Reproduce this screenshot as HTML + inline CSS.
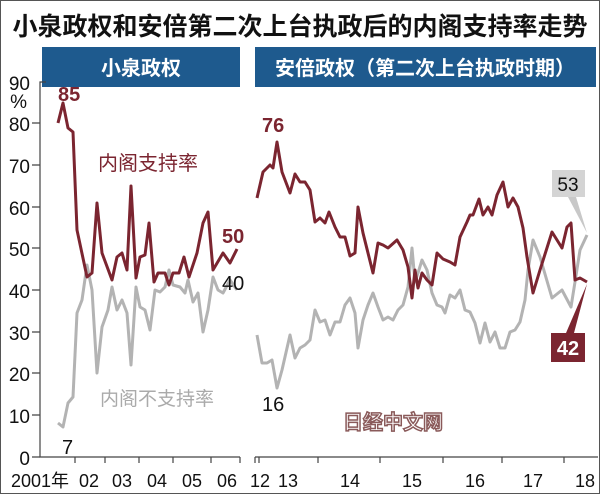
<!DOCTYPE html>
<html><head><meta charset="utf-8"><style>
html,body{margin:0;padding:0;background:#fff}
svg{display:block}
text{font-family:"Liberation Sans","Noto Sans CJK SC",sans-serif}
</style></head><body>
<svg width="600" height="494" viewBox="0 0 600 494" xmlns="http://www.w3.org/2000/svg">
<rect x="0.5" y="0.5" width="599" height="493" fill="#fff" stroke="#555"/>
<text x="300" y="35" font-size="25" font-weight="bold" text-anchor="middle" fill="#111">小泉政权和安倍第二次上台执政后的内阁支持率走势</text>
<rect x="42" y="47" width="198" height="40" fill="#1e5a8e"/>
<text x="141" y="75" font-size="20" font-weight="bold" text-anchor="middle" fill="#fff">小泉政权</text>
<rect x="255" y="47" width="341" height="40" fill="#1e5a8e"/>
<text x="425" y="75" font-size="20" font-weight="bold" text-anchor="middle" fill="#fff">安倍政权（第二次上台执政时期）</text>
<g stroke="#444" stroke-width="1.2" fill="none">
<path d="M46 82H40V457H240M255 457H598"/>
<path d="M32 123H40M32 165H40M32 207H40M32 248H40M32 290H40M32 332H40M32 373H40M32 415H40M32 457H40"/>
<path d="M75 457V463M105 457V463M139 457V463M173 457V463M211 457V463M240 457V463M255 457V463M259 457V463M318 457V463M380 457V463M443 457V463M502 457V463M564 457V463"/>
</g>
<g font-size="19" fill="#111" text-anchor="end">
<text x="30" y="90">90</text><text x="27" y="108">%</text>
<text x="30" y="131">80</text><text x="30" y="173">70</text><text x="30" y="215">60</text>
<text x="30" y="256">50</text><text x="30" y="298">40</text><text x="30" y="340">30</text>
<text x="30" y="381">20</text><text x="30" y="423">10</text><text x="30" y="465">0</text>
</g>
<g font-size="18" fill="#111" text-anchor="middle">
<text x="40" y="487">2001年</text><text x="89" y="487">02</text><text x="122" y="487">03</text>
<text x="157" y="487">04</text><text x="192" y="487">05</text><text x="227" y="487">06</text>
<text x="260" y="487">12</text><text x="288" y="487">13</text><text x="350" y="487">14</text>
<text x="412" y="487">15</text><text x="475" y="487">16</text><text x="533" y="487">17</text><text x="585" y="487">18</text>
</g>
<g fill="none" stroke-width="3" stroke-linejoin="round">
<polyline stroke="#b3b3b3" points="58,423 63,427 68,403 73,397 77,313 82,300 87,265 92,290 97,373 102,327 108,310 112,287 117,310 122,300 127,313 131,365 136,287 140,307 145,310 150,330 155,290 160,292 165,287 169,270 173,285 180,287 185,293 188,280 193,302 198,293 203,332 208,310 213,277 218,290 223,293 230,280 237,290"/>
<polyline stroke="#7b2530" points="58,123 63,103 68,128 73,132 77,230 87,277 92,273 97,203 102,253 112,280 117,257 122,253 127,270 131,186 136,278 140,257 145,255 149,223 154,282 158,273 165,273 169,285 173,273 179,273 184,257 189,277 197,253 203,223 208,212 213,270 223,253 230,263 237,249"/>
<polyline stroke="#b3b3b3" points="257,335 262,363 267,363 272,360 277,388 282,370 290,335 295,358 300,348 305,345 310,340 315,310 320,322 325,320 330,335 335,322 340,322 345,305 350,298 355,313 358,348 363,320 368,305 373,293 378,307 383,320 388,317 393,320 398,310 403,305 408,287 412,248 415,282 418,273 422,260 427,270 432,293 437,305 442,307 445,313 450,295 455,298 460,290 465,310 470,312 475,323 480,343 485,323 490,342 495,332 500,348 505,348 510,332 515,330 520,322 525,300 528,270 533,240 540,257 552,298 562,290 571,307 575,282 580,250 587,235"/>
<polyline stroke="#7b2530" points="257,198 263,172 270,165 273,168 277,142 282,172 290,193 295,174 300,182 305,182 310,190 315,222 320,218 325,223 329,212 335,227 340,237 345,237 350,256 355,253 358,207 363,233 368,253 373,273 378,243 383,245 388,248 397,240 403,250 408,267 412,298 415,270 418,288 422,273 427,280 432,285 437,253 443,259 450,262 455,265 460,237 467,222 470,215 473,215 479,199 483,215 488,207 492,215 497,195 503,182 508,207 513,198 518,207 523,228 527,257 533,293 540,270 552,232 562,248 567,227 571,223 575,280 580,278 587,282"/>
</g>
<polygon points="568,197 576,197 587,233" fill="#c8c8c8"/>
<rect x="552" y="170" width="33" height="27" fill="#d4d4d4"/>
<text x="568" y="191" font-size="19" text-anchor="middle" fill="#111">53</text>
<polygon points="566,333 574,333 587,284" fill="#7b2530"/>
<rect x="551" y="333" width="34" height="29" fill="#7b2530"/>
<text x="568" y="355" font-size="20" font-weight="bold" text-anchor="middle" fill="#fff">42</text>
<g font-size="20" font-weight="bold" fill="#7b2530">
<text x="58" y="101">85</text><text x="262" y="132">76</text><text x="222" y="243">50</text>
</g>
<g font-size="20" fill="#111">
<text x="62" y="454">7</text><text x="262" y="411">16</text><text x="222" y="290">40</text>
</g>
<text x="98" y="170" font-size="20" fill="#7b2530">内阁支持率</text>
<text x="100" y="405" font-size="19" fill="#aaa">内阁不支持率</text>
<text x="393" y="429" font-size="20" font-weight="bold" text-anchor="middle" fill="#fff" stroke="#8a5a5a" stroke-width="1.5">日经中文网</text>
</svg>
</body></html>
